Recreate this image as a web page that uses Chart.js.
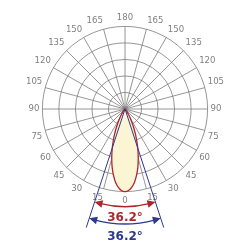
<!DOCTYPE html>
<html><head><meta charset="utf-8">
<script src="https://cdn.jsdelivr.net/npm/chart.js@4"></script>
<style>html,body{margin:0;padding:0;background:#fff}</style>
</head><body>
<canvas id="c" width="250" height="250"></canvas>
<script>
// Angle tick labels every 15°, clockwise from the top of the diagram
const angleTickLabels = ['180','165','150','135','120','105','90','75','60','45','30','15','0','15','30','45','60','75','90','105','120','135','150','165'];
// Gamma angles (deg from nadir) and relative intensity (% of outer ring), symmetric lobe
const gammaDeg = [0,2.5,5,7.5,10,12.5,15,17.5,20,22.5,25,27.5,30,32.5,35,37.5,40,42.5,45];
const intensityPct = [100,98.8,95,89,81,72,62,52,42,33,25,18,12,8,5,3,1.5,0.5,0];
// Beam angles shown below the chart
const beamAngles = [36.2, 36.2];
const beamTexts = ['36.2°', '36.2°'];

const STEP = 2.5;
const N = 360 / STEP;
const labels = [];
const data = [];
for (let i = 0; i < N; i++) {
  labels.push(i % 6 === 0 ? angleTickLabels[i / 6] : '');
  const theta = i * STEP;
  const g = Math.abs(180 - theta);
  const k = gammaDeg.indexOf(g);
  data.push(k >= 0 ? intensityPct[k] : 0);
}

const RED = '#b0262d', BLUE = '#2c3a8e';

const beamPlugin = {
  id: 'beam',
  afterDatasetsDraw(chart) {
    const s = chart.scales.r, ctx = chart.ctx;
    const cx = s.xCenter, cy = s.yCenter;
    const pt = (gDeg, v) => {
      const d = s.getDistanceFromCenterForValue(v);
      const g = gDeg * Math.PI / 180;
      return [cx + d * Math.sin(g), cy + d * Math.cos(g)];
    };
    ctx.save();
    const half = beamAngles[1] / 2;
    ctx.strokeStyle = BLUE; ctx.lineWidth = 1;
    [-half, half].forEach(g => {
      const p = pt(g, 151);
      ctx.beginPath(); ctx.moveTo(cx, cy); ctx.lineTo(p[0], p[1]); ctx.stroke();
    });
    const drawArc = (halfDeg, v, color) => {
      const r = s.getDistanceFromCenterForValue(v);
      const h = halfDeg * Math.PI / 180;
      const arrowLen = 8, arrowW = 3.8;
      const da = arrowLen / r;
      ctx.strokeStyle = color; ctx.fillStyle = color; ctx.lineWidth = 1.4;
      ctx.beginPath();
      ctx.arc(cx, cy, r, Math.PI / 2 - h + da * 0.8, Math.PI / 2 + h - da * 0.8);
      ctx.stroke();
      [[Math.PI / 2 - h, Math.PI / 2 - h + da], [Math.PI / 2 + h, Math.PI / 2 + h - da]].forEach(([a, b]) => {
        const tx = cx + r * Math.cos(a), ty = cy + r * Math.sin(a);
        const bx = cx + r * Math.cos(b), by = cy + r * Math.sin(b);
        const nx = Math.cos(b), ny = Math.sin(b);
        ctx.beginPath();
        ctx.moveTo(tx, ty);
        ctx.lineTo(bx + nx * arrowW, by + ny * arrowW);
        ctx.lineTo(bx - nx * arrowW, by - ny * arrowW);
        ctx.closePath(); ctx.fill();
      });
      return r;
    };
    const rr = drawArc(beamAngles[0] / 2, 118.3, RED);
    const rb = drawArc(beamAngles[1] / 2, 139.2, BLUE);
    ctx.font = 'bold 12px "DejaVu Sans", sans-serif';
    ctx.textAlign = 'center'; ctx.textBaseline = 'alphabetic';
    ctx.fillStyle = RED; ctx.fillText(beamTexts[0], cx, cy + rr + 14.3);
    ctx.fillStyle = BLUE; ctx.fillText(beamTexts[1], cx, cy + rb + 16);
    ctx.restore();
  }
};

new Chart(document.getElementById('c'), {
  type: 'radar',
  data: { labels, datasets: [{
    data, borderColor: RED, borderWidth: 1.3, backgroundColor: '#fcf5d4',
    fill: true, pointRadius: 0, tension: 0.15
  }]},
  options: {
    responsive: false, animation: false,
    layout: { padding: { left: 26, right: 26, top: 10, bottom: 41 } },
    plugins: { legend: { display: false }, tooltip: { enabled: false } },
    scales: { r: {
      min: 0, max: 100,
      ticks: { display: false, stepSize: 20 },
      grid: { circular: true, color: '#7c7c7c', lineWidth: 0.8 },
      angleLines: { color: '#7c7c7c', lineWidth: c => (c.index % 6 === 0 ? 0.8 : 0) },
      pointLabels: { color: '#808080', padding: 3, font: { family: '"Liberation Sans Narrow", "DejaVu Sans Condensed", sans-serif', size: 9.5 } }
    }}
  },
  plugins: [beamPlugin]
});
</script>
</body></html>
